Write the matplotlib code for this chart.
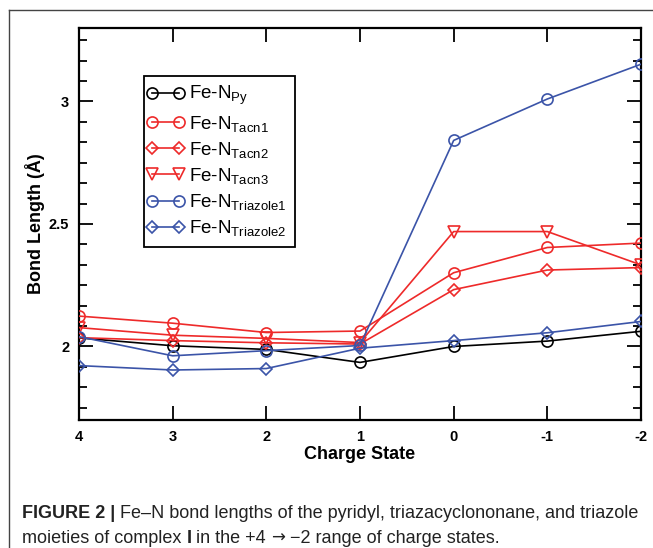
import numpy as np
import matplotlib
matplotlib.use("Agg")
from matplotlib import pyplot as plt
from matplotlib.ticker import MultipleLocator, FuncFormatter
from matplotlib.lines import Line2D
from matplotlib.legend_handler import HandlerLine2D
from matplotlib.transforms import IdentityTransform

plt.rcParams['font.family'] = ['Liberation Sans', 'DejaVu Sans']
plt.rcParams['mathtext.fontset'] = 'custom'
plt.rcParams['mathtext.rm'] = 'Liberation Sans'
plt.rcParams['mathtext.it'] = 'Liberation Sans:italic'
plt.rcParams['mathtext.bf'] = 'Liberation Sans:bold'

# charge states (left to right)
charge = [4, 3, 2, 1, 0, -1, -2]

fe_py = [2.035, 2.003, 1.988, 1.935, 2.000, 2.022, 2.062]
fe_tacn1 = [2.124, 2.095, 2.057, 2.063, 2.301, 2.404, 2.422]
fe_tacn2 = [2.036, 2.024, 2.015, 2.010, 2.232, 2.312, 2.322]
fe_tacn3 = [2.077, 2.046, 2.033, 2.016, 2.469, 2.469, 2.333]
fe_tri1 = [2.040, 1.962, 1.983, 2.004, 2.841, 3.010, 3.152]
fe_tri2 = [1.922, 1.904, 1.910, 1.993, 2.024, 2.056, 2.102]

labels = [r'Fe-N$_{\mathrm{Py}}$', r'Fe-N$_{\mathrm{Tacn1}}$', r'Fe-N$_{\mathrm{Tacn2}}$',
          r'Fe-N$_{\mathrm{Tacn3}}$', r'Fe-N$_{\mathrm{Triazole1}}$', r'Fe-N$_{\mathrm{Triazole2}}$']

red = '#ee2a2a'
blue = '#3b54a8'

fig = plt.figure(figsize=(6.53, 5.48), dpi=100)
ax = fig.add_axes([0.121, 0.2336, 0.8606, 0.7154])

series = [(fe_py, 'black', 'o', 8), (fe_tacn1, red, 'o', 8), (fe_tacn2, red, 'D', 6),
          (fe_tacn3, red, 'v', 8), (fe_tri1, blue, 'o', 8), (fe_tri2, blue, 'D', 6)]
for (vals, c, m, ms), lab in zip(series, labels):
    ax.plot(charge, vals, color=c, marker=m, markersize=ms, markerfacecolor='none',
            markeredgecolor=c, markeredgewidth=1.2, linewidth=1.2, label=lab, zorder=3)

ax.set_xlim(4, -2)
ax.set_ylim(1.7, 3.3)
ax.set_xticks(charge)
ax.set_xticklabels([str(c) for c in charge])
ax.yaxis.set_major_locator(MultipleLocator(0.5))
ax.yaxis.set_minor_locator(MultipleLocator(1 / 12))
ax.yaxis.set_major_formatter(FuncFormatter(lambda v, p: '%g' % v))

for s in ax.spines.values():
    s.set_linewidth(1.6)
ax.tick_params(which='both', direction='in', top=True, right=True, width=1.3)
ax.tick_params(which='major', length=10, labelsize=10.5, pad=7)
ax.tick_params(which='minor', length=6)
for t in ax.get_xticklabels() + ax.get_yticklabels():
    t.set_fontweight('bold')

ax.set_xlabel('Charge State', fontsize=13, fontweight='bold')
ax.xaxis.set_label_coords(0.5, -0.066)
ax.set_ylabel('Bond Length (Å)', fontsize=13, fontweight='bold')
ax.yaxis.set_label_coords(-0.06, 0.5)

leg = ax.legend(loc='upper left', bbox_to_anchor=(0.1157, 0.878), borderaxespad=0,
                fancybox=False, edgecolor='black', framealpha=1, numpoints=2,
                fontsize=13.5, handlelength=1.4, handletextpad=0.55, labelspacing=0.33,
                borderpad=0.45, handler_map={Line2D: HandlerLine2D(marker_pad=0.0)})
leg.get_frame().set_linewidth(1.3)

# outer frame of the figure panel
fig.add_artist(Line2D([9 / 653, 1], [1 - 10 / 548, 1 - 10 / 548], transform=fig.transFigure,
                      color='#444444', linewidth=1.0))
fig.add_artist(Line2D([9 / 653, 9 / 653], [0, 1 - 10 / 548], transform=fig.transFigure,
                      color='#444444', linewidth=1.0))

# caption, with bold parts (arrow taken from DejaVu Sans)
renderer = fig.canvas.get_renderer()
cap_lines = [
    (548 - 518, [('FIGURE 2 | ', 'bold', None),
                 ('Fe–N bond lengths of the pyridyl, triazacyclononane, and triazole', 'normal', None)]),
    (548 - 543, [('moieties of complex ', 'normal', None), ('I', 'bold', None),
                 (' in the +4 ', 'normal', None), ('→', 'normal', 'DejaVu Sans'),
                 (' −2 range of charge states.', 'normal', None)]),
]
for ypix, parts in cap_lines:
    xpix = 22
    for s, w, fam in parts:
        kw = {'family': fam} if fam else {}
        t = fig.text(xpix, ypix, s, fontsize=13 if fam is None else 12, fontweight=w,
                     color='#222222', transform=IdentityTransform(), va='baseline', **kw)
        xpix += t.get_window_extent(renderer).width

fig.savefig('out.png', dpi=100)
